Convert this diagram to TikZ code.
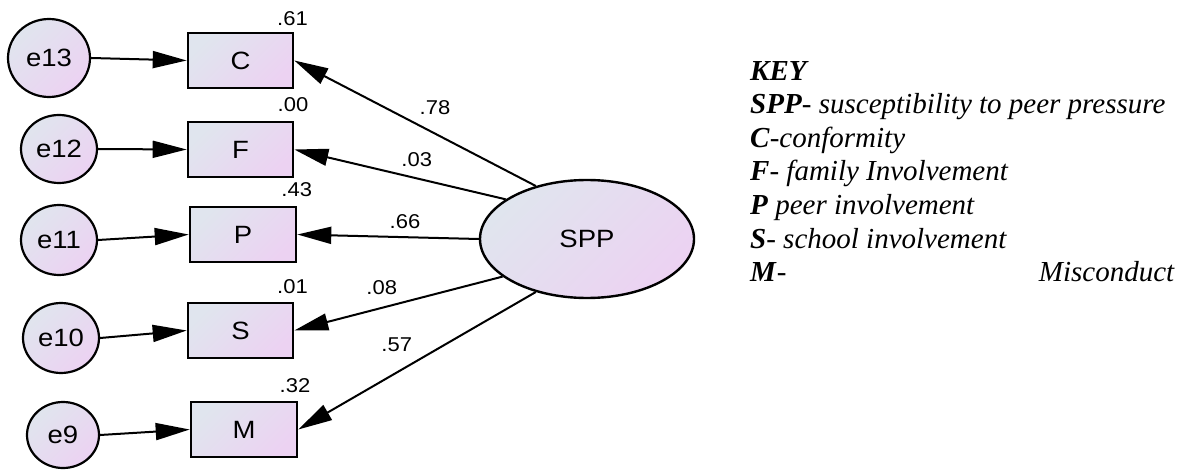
\documentclass[tikz,border=0pt]{standalone}
\usepackage{fontspec}
\usetikzlibrary{arrows.meta,shapes.geometric}
\newfontfamily\dg[FakeStretch=1.1]{Liberation Sans}
\newfontfamily\kf{Liberation Serif}
\definecolor{gA}{RGB}{224,229,238}
\definecolor{gB}{RGB}{236,210,242}
\tikzset{
  grad/.style={top color=gA, bottom color=gB, shading angle=45},
  errc/.style={ellipse, draw, line width=2.2pt, grad, inner sep=0pt, font=\dg\fontsize{25}{28}\selectfont},
  obsbox/.style={rectangle, draw, line width=2.6pt, grad, minimum width=105pt, minimum height=55pt, inner sep=0pt, font=\dg\fontsize{25}{28}\selectfont},
  latent/.style={ellipse, draw, line width=2.4pt, grad, minimum width=214pt, minimum height=118pt, inner sep=0pt, font=\dg\fontsize{25}{28}\selectfont},
  coef/.style={inner sep=0pt, font=\dg\fontsize{20}{22}\selectfont},
  path/.style={line width=2pt, -{Triangle[length=34pt,width=17pt]}},
  keyline/.style={anchor=base west, inner sep=0pt, font=\kf\fontsize{29}{33}\selectfont},
}
\begin{document}
\begin{tikzpicture}[x=1pt,y=-1pt]
\useasboundingbox (0,0) rectangle (1185,470);
% error terms
\node[errc, minimum width=82pt, minimum height=78pt] (e13) at (49,58) {e13};
\node[errc, minimum width=76pt, minimum height=68pt] (e12) at (59,149) {e12};
\node[errc, minimum width=76pt, minimum height=70pt] (e11) at (59,240) {e11};
\node[errc, minimum width=76pt, minimum height=70pt] (e10) at (61,338) {e10};
\node[errc, minimum width=72pt, minimum height=66pt] (e9) at (63,435) {e9};
% observed
\node[obsbox] (C) at (240.5,60.5) {C};
\node[obsbox] (F) at (240.5,149.5) {F};
\node[obsbox, minimum width=106pt] (P) at (243,234.5) {P};
\node[obsbox] (S) at (240.5,330.5) {S};
\node[obsbox, minimum width=106pt] (M) at (244,429.5) {M};
% latent
\node[latent] (SPP) at (587,239) {SPP};
% error paths
\draw[path] (e13.east) -- (C.west);
\draw[path] (e12.east) -- (F.west);
\draw[path] (e11.east) -- (P.west);
\draw[path] (e10.east) -- (S.west);
\draw[path] (e9.east) -- (M.west);
% loadings
\draw[path] (SPP.134) -- (C.east);
\draw[path] (SPP.154) -- (F.east);
\draw[path] (SPP.west) -- (P.east);
\draw[path] (SPP.204) -- (S.east);
\draw[path] (SPP.226) -- (M.east);
% R-squared labels
\node[coef] (rC) at (292.5,18.7) {.61};
\node[coef] (rF) at (293,105) {.00};
\node[coef] (rP) at (296.7,190) {.43};
\node[coef] (rS) at (292.5,286.7) {.01};
\node[coef] (rM) at (295,385.8) {.32};
% loading labels
\node[coef] (lC) at (435,108) {.78};
\node[coef] (lF) at (416.7,160) {.03};
\node[coef] (lP) at (405,221.7) {.66};
\node[coef] (lS) at (381.7,288) {.08};
\node[coef] (lM) at (396.7,345) {.57};
% key
\node[keyline] (k0) at (750,81) {\bfseries\itshape KEY};
\node[keyline] (k1) at (750,114) {\textbf{\textit{SPP}}- \textit{susceptibility to peer pressure}};
\node[keyline] (k2) at (750,147.5) {\textbf{\textit{C}}-\textit{conformity}};
\node[keyline] (k3) at (750,181) {\textbf{\textit{F}}- \textit{family Involvement}};
\node[keyline] (k4) at (750,215) {\textbf{\textit{P}} \textit{peer involvement}};
\node[keyline] (k5) at (750,248) {\textbf{\textit{S}}- \textit{school involvement}};
\node[keyline] (k6) at (750,281.5) {\textbf{\textit{M}}-};
\node[keyline, anchor=base east] (k7) at (1175,281.5) {\textit{Misconduct}};
\end{tikzpicture}
\end{document}
